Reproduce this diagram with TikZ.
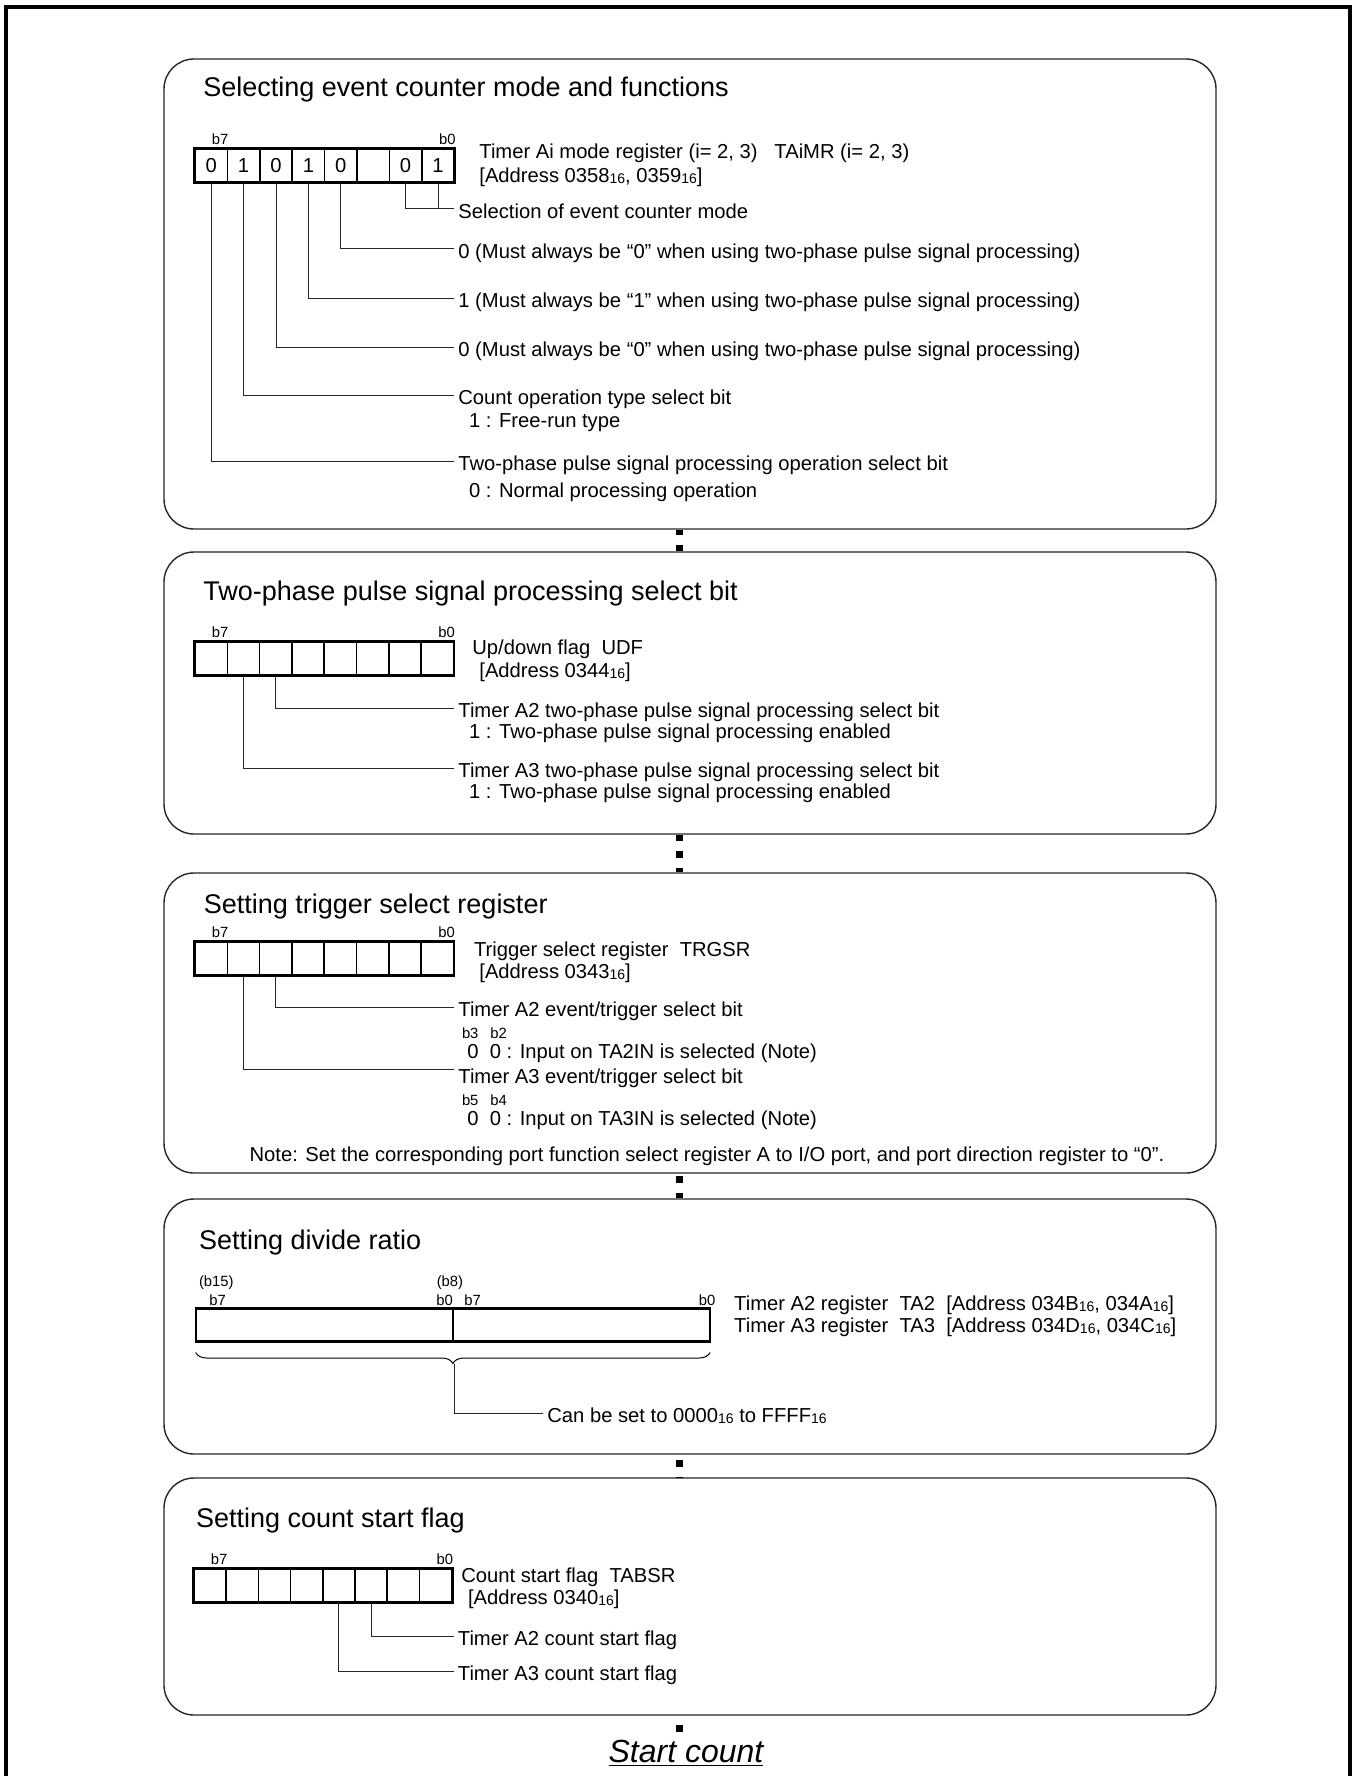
\documentclass[tikz,border=0pt]{standalone}
\usepackage{fontspec}
\setmainfont{Liberation Sans}
\usepackage{tikz}
\usetikzlibrary{fit,decorations.pathreplacing}

\newcommand{\bodysize}{\fontsize{10.1}{12}\selectfont}
\newcommand{\headsize}{\fontsize{13.5}{16}\selectfont}
\newcommand{\bitsize}{\fontsize{7.4}{8}\selectfont}
\newcommand{\hexsub}{\raisebox{-0.5pt}{\fontsize{7}{7}\selectfont 16}}

\begin{document}
\begin{tikzpicture}[
  x=0.5pt, y=-0.5pt,
  outer/.style={line width=2pt},
  panel/.style={draw=black!85, line width=0.7pt, rounded corners=15pt, inner sep=0pt},
  heading/.style={font=\headsize, anchor=west, inner sep=0pt},
  cell/.style={draw, line width=0.8pt, minimum width=16.15pt, minimum height=16.5pt, inner sep=0pt, font=\bodysize},
  regline/.style={line width=1.2pt},
  bitno/.style={font=\bitsize, inner sep=0pt},
  lbl/.style={font=\bodysize, anchor=west, inner xsep=2pt, inner ysep=0pt, text height=9.3pt, text depth=0pt},
  lead/.style={draw=black!85, line width=0.5pt},
  link/.style={line width=3.5pt, dash pattern=on 3.5pt off 5pt},
  brc/.style={decorate, decoration={brace, mirror, amplitude=5.5pt}, line width=0.5pt}
]
\useasboundingbox (0,0) rectangle (1355,1776);
\draw[outer] (6,1776) |- (1350,7.5) -- (1350,1776);
\coordinate (axis) at (679,0);

% mode register
\node[panel, fit={(164,59) (1216,529)}] (box1) {};
\node[heading] (h1) at (203,90) {Selecting event counter mode and functions};
\foreach \v [count=\i from 0] in {0,1,0,1,0,{},0,1}
  \node[cell] (mr\i) at ({195+32.4*(\i+0.5)},165.5) {\v};
\draw[regline] (mr0.north west) rectangle (mr7.south east);
\node[bitno] (mrhi) at ([xshift=4.5pt,yshift=4.5pt]mr0.north) {b7};
\node[bitno, anchor=east] (mrlo) at ([xshift=0.5pt,yshift=4.5pt]mr7.north east) {b0};
\node[lbl] (mrname) at (475,149) {Timer Ai mode register (i= 2, 3)\ \ \ TAiMR (i= 2, 3)};
\node[lbl] (mraddr) at (475,173) {[Address 0358\hexsub, 0359\hexsub]};
\node[lbl] (sel) at (454,209) {Selection of event counter mode};
\node[lbl] (mst3) at (454,249) {0 (Must always be “0” when using two-phase pulse signal processing)};
\node[lbl] (mst4) at (454,298) {1 (Must always be “1” when using two-phase pulse signal processing)};
\node[lbl] (mst5) at (454,347) {0 (Must always be “0” when using two-phase pulse signal processing)};
\node[lbl] (cnt) at (454,395) {Count operation type select bit};
\node[lbl] (cntv) at (464.7,417.7) {1 : Free-run type};
\node[lbl] (tpo) at (454,461) {Two-phase pulse signal processing operation select bit};
\node[lbl] (tpov) at (464.7,487.7) {0 : Normal processing operation};
\draw[lead] (mr6.south) |- (sel.west);
\draw[lead] (mr7.south) -- (mr7.south |- sel.west);
\draw[lead] (mr4.south) |- (mst3.west);
\draw[lead] (mr3.south) |- (mst4.west);
\draw[lead] (mr2.south) |- (mst5.west);
\draw[lead] (mr1.south) |- (cnt.west);
\draw[lead] (mr0.south) |- (tpo.west);

% up/down flag
\node[panel, fit={(164,552) (1216,834)}] (box2) {};
\node[heading] (h2) at (203,593.5) {Two-phase pulse signal processing select bit};
\foreach \i in {0,...,7}
  \node[cell] (udf\i) at ({195+32.3*(\i+0.5)},658.5) {};
\draw[regline] (udf0.north west) rectangle (udf7.south east);
\node[bitno] (udfhi) at ([xshift=4.5pt,yshift=4.5pt]udf0.north) {b7};
\node[bitno, anchor=east] (udflo) at ([xshift=0.5pt,yshift=4.5pt]udf7.north east) {b0};
\node[lbl] (udfname) at (468,645) {Up/down flag\ \ UDF};
\node[lbl] (udfaddr) at (475,667.7) {[Address 0344\hexsub]};
\node[lbl] (tpa2) at (454,708) {Timer A2 two-phase pulse signal processing select bit};
\node[lbl] (tpa2v) at (464.7,729) {1 : Two-phase pulse signal processing enabled};
\node[lbl] (tpa3) at (454,768.5) {Timer A3 two-phase pulse signal processing select bit};
\node[lbl] (tpa3v) at (464.7,789) {1 : Two-phase pulse signal processing enabled};
\draw[lead] (udf2.south) |- (tpa2.west);
\draw[lead] (udf1.south) |- (tpa3.west);

% trigger select register
\node[panel, fit={(164,873) (1216,1173)}] (box3) {};
\node[heading] (h3) at (203.5,906.5) {Setting trigger select register};
\foreach \i in {0,...,7}
  \node[cell] (trg\i) at ({195+32.3*(\i+0.5)},958.2) {};
\draw[regline] (trg0.north west) rectangle (trg7.south east);
\node[bitno] (trghi) at ([xshift=4.5pt,yshift=4.5pt]trg0.north) {b7};
\node[bitno, anchor=east] (trglo) at ([xshift=0.5pt,yshift=4.5pt]trg7.north east) {b0};
\node[lbl] (trgname) at (469.6,946.7) {Trigger select register\ \ TRGSR};
\node[lbl] (trgaddr) at (475,969) {[Address 0343\hexsub]};
\node[lbl] (eva2) at (454,1007) {Timer A2 event/trigger select bit};
\node[bitno, anchor=west] (eva2b) at (461.6,1033) {b3\hspace{6pt}b2};
\node[lbl] (eva2v) at (463,1049) {0\ \ 0 : Input on TA2IN is selected (Note)};
\node[lbl] (eva3) at (454,1074) {Timer A3 event/trigger select bit};
\node[bitno, anchor=west] (eva3b) at (461.6,1100) {b5\hspace{6pt}b4};
\node[lbl] (eva3v) at (463,1116) {0\ \ 0 : Input on TA3IN is selected (Note)};
\node[font=\bodysize, inner sep=0pt] (note) at (707,1156) {Note: Set the corresponding port function select register A to I/O port, and port direction register to “0”.};
\draw[lead] (trg2.south) |- (eva2.west);
\draw[lead] (trg1.south) |- ([yshift=2.5pt]eva3.west);

% timer registers
\node[panel, fit={(164,1199) (1216,1454)}] (box4) {};
\node[heading] (h4) at (198.6,1243) {Setting divide ratio};
\node[cell, minimum width=128.35pt, minimum height=15.85pt] (tahi) at (324.85,1324.85) {};
\node[cell, minimum width=128.05pt, minimum height=15.85pt] (talo) at (581.25,1324.85) {};
\draw[regline] (tahi.north west) rectangle (talo.south east);
\node[bitno, anchor=west] (hib15) at (198.6,1282.7) {(b15)};
\node[bitno, anchor=west] (hib7) at (209,1300) {b7};
\node[bitno, anchor=west] (hib8) at (436.4,1282.7) {(b8)};
\node[bitno, anchor=east] (hib0) at (453.2,1300) {b0};
\node[bitno, anchor=west] (lob7) at (463.9,1300) {b7};
\node[bitno, anchor=east] (lob0) at (715.7,1300) {b0};
\node[lbl] (ta2) at (729.8,1301) {Timer A2 register\ \ TA2\ \ [Address 034B\hexsub, 034A\hexsub]};
\node[lbl] (ta3) at (729.8,1322.7) {Timer A3 register\ \ TA3\ \ [Address 034D\hexsub, 034C\hexsub]};
\draw[brc] ([yshift=-5.5pt]tahi.south west) -- ([yshift=-5.5pt]talo.south east);
\coordinate (tip) at ([yshift=-11pt]tahi.south east);
\node[lbl] (range) at (543,1413) {Can be set to 0000\hexsub\ to FFFF\hexsub};
\draw[lead] (tip) |- (range.west);

% count start flag
\node[panel, fit={(164,1478) (1216,1715)}] (box5) {};
\node[heading] (h5) at (195.7,1520) {Setting count start flag};
\foreach \i in {0,...,7}
  \node[cell] (tabsr\i) at ({194+32.2*(\i+0.5)},1585.5) {};
\draw[regline] (tabsr0.north west) rectangle (tabsr7.south east);
\node[bitno] (tabsrhi) at ([xshift=4.5pt,yshift=4.5pt]tabsr0.north) {b7};
\node[bitno, anchor=east] (tabsrlo) at ([xshift=0.5pt,yshift=4.5pt]tabsr7.north east) {b0};
\node[lbl] (tabname) at (457,1573.3) {Count start flag\ \ TABSR};
\node[lbl] (tabaddr) at (463.7,1595.3) {[Address 0340\hexsub]};
\node[lbl] (sfa2) at (453.5,1636.5) {Timer A2 count start flag};
\node[lbl] (sfa3) at (453.5,1671) {Timer A3 count start flag};
\draw[lead] (tabsr5.south) |- (sfa2.west);
\draw[lead] (tabsr4.south) |- (sfa3.west);

\node[font=\fontsize{16}{19}\selectfont\itshape, inner sep=0pt, anchor=base] (start) at (686,1762) {\underline{Start count}};

% flow
\draw[link, dash phase=1pt] (box1.south -| axis) -- (box2.north -| axis);
\draw[link, dash phase=0.5pt] (box2.south -| axis) -- (box3.north -| axis);
\draw[link, dash phase=7.5pt] (box3.south -| axis) -- (box4.north -| axis);
\draw[link, dash phase=6pt] (box4.south -| axis) -- (box5.north -| axis);
\draw[link, dash phase=4pt] (box5.south -| axis) -- (start.north -| axis);
\end{tikzpicture}
\end{document}
